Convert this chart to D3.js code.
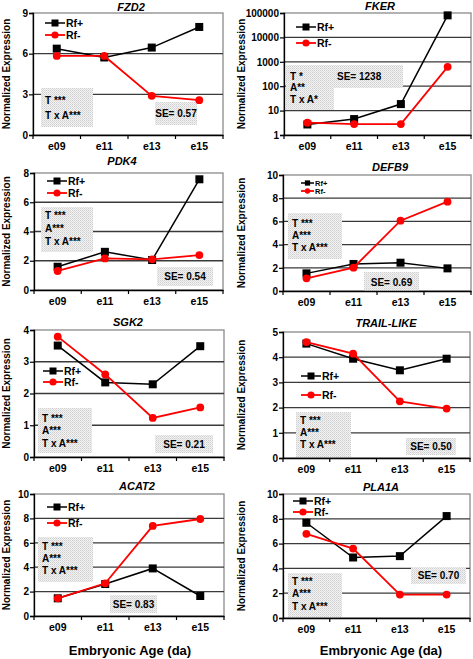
<!DOCTYPE html>
<html><head><meta charset="utf-8">
<script src="https://cdn.jsdelivr.net/npm/d3@7"></script>
<style>
body{margin:0;background:#fff}
svg{display:block}
text{font-family:"Liberation Sans",Arial,sans-serif;font-weight:bold;fill:#000}
</style>
</head><body>
<svg id="c" width="473" height="659"></svg>
<script>
// ---------- data ----------
const categories = ["e09", "e11", "e13", "e15"];
const seriesNames = ["Rf+", "Rf-"];

const fzd2Plus  = [6.37, 5.72, 6.45, 7.97];
const fzd2Minus = [5.83, 5.83, 2.89, 2.57];
const fzd2Ticks = [0, 3, 6, 9];
const fzd2Stats = ["T ***", "T x A***"];
const fzd2SE = "SE= 0.57";

const fkerPlus  = [2.7, 4.5, 18.5, 80000];
const fkerMinus = [3.2, 2.8, 2.8, 620];
const fkerTicks = [1, 10, 100, 1000, 10000, 100000];
const fkerStats = ["T *", "A**", "T x A*"];
const fkerSE = "SE= 1238";

const pdk4Plus  = [1.59, 2.61, 2.05, 7.57];
const pdk4Minus = [1.30, 2.16, 2.10, 2.39];
const pdk4Ticks = [0, 2, 4, 6, 8];
const pdk4Stats = ["T ***", "A***", "T x A***"];
const pdk4SE = "SE= 0.54";

const defb9Plus  = [1.52, 2.33, 2.44, 1.95];
const defb9Minus = [1.09, 2.01, 6.06, 7.70];
const defb9Ticks = [0, 2, 4, 6, 8, 10];
const defb9Stats = ["T ***", "A***", "T x A***"];
const defb9SE = "SE= 0.69";

const sgk2Plus  = [3.51, 2.35, 2.29, 3.49];
const sgk2Minus = [3.79, 2.60, 1.23, 1.56];
const sgk2Ticks = [0, 1, 2, 3, 4];
const sgk2Stats = ["T ***", "A***", "T x A***"];
const sgk2SE = "SE= 0.21";

const trailPlus  = [4.54, 3.94, 3.48, 3.94];
const trailMinus = [4.60, 4.14, 2.25, 1.96];
const trailTicks = [0, 1, 2, 3, 4, 5];
const trailStats = ["T ***", "A***", "T x A***"];
const trailSE = "SE= 0.50";

const acat2Plus  = [1.45, 2.62, 3.90, 1.64];
const acat2Minus = [1.45, 2.68, 7.38, 7.95];
const acat2Ticks = [0, 2, 4, 6, 8, 10];
const acat2Stats = ["T ***", "A***", "T x A***"];
const acat2SE = "SE= 0.83";

const pla1aPlus  = [7.68, 4.88, 4.99, 8.22];
const pla1aMinus = [6.79, 5.60, 1.89, 1.89];
const pla1aTicks = [0, 2, 4, 6, 8, 10];
const pla1aStats = ["T ***", "A***", "T x A***"];
const pla1aSE = "SE= 0.70";

const yTitle = "Normalized Expression";
const xTitle = "Embryonic Age (da)";

// ---------- layout ----------
const panels = [
  {gene:"FZD2", plus:fzd2Plus, minus:fzd2Minus, ticks:fzd2Ticks, stats:fzd2Stats, se:fzd2SE, log:false,
   l:33, r:223, t:13, b:135, title:[131, 11], ytx:6,
   leg:{x:45, y:23, dy:12}, sb:{x:41, y:88, w:52, h:39, ty:100, dy:15}, seb:{x:155, y:102, w:42, h:23}},
  {gene:"FKER", plus:fkerPlus, minus:fkerMinus, ticks:fkerTicks, stats:fkerStats, se:fkerSE, log:true,
   l:284, r:471, t:13, b:135, title:[380, 10], ytx:241,
   leg:{x:296, y:27, dy:16}, sb:{x:286, y:65, w:48, h:45, ty:76, dy:11.5}, seb:{x:333, y:65, w:70, h:23, tx:337, left:true}},
  {gene:"PDK4", plus:pdk4Plus, minus:pdk4Minus, ticks:pdk4Ticks, stats:pdk4Stats, se:pdk4SE, log:false,
   l:34, r:223, t:173, b:290, title:[122, 165], ytx:6,
   leg:{x:47, y:181, dy:12}, sb:{x:41, y:207, w:52, h:45, ty:215, dy:13}, seb:{x:157, y:267, w:56, h:19}},
  {gene:"DEFB9", plus:defb9Plus, minus:defb9Minus, ticks:defb9Ticks, stats:defb9Stats, se:defb9SE, log:false,
   l:283, r:471, t:175, b:291, title:[390, 171], ytx:241,
   leg:{x:301, y:183, dy:8, len:13, fs:7.5, ms:0.75}, sb:{x:288, y:213, w:54, h:46, ty:223, dy:12}, seb:{x:364, y:272, w:55, h:20}},
  {gene:"SGK2", plus:sgk2Plus, minus:sgk2Minus, ticks:sgk2Ticks, stats:sgk2Stats, se:sgk2SE, log:false,
   l:34, r:224, t:330, b:457, title:[128, 326], ytx:6,
   leg:{x:43, y:371, dy:11}, sb:{x:38, y:408, w:54, h:45, ty:418, dy:12.5}, seb:{x:155, y:435, w:58, h:18}},
  {gene:"TRAIL-LIKE", plus:trailPlus, minus:trailMinus, ticks:trailTicks, stats:trailStats, se:trailSE, log:false,
   l:283, r:470, t:332, b:458, title:[386, 327], ytx:241,
   leg:{x:301, y:376, dy:19}, sb:{x:296, y:412, w:55, h:45, ty:420, dy:12}, seb:{x:406, y:438, w:50, h:17}},
  {gene:"ACAT2", plus:acat2Plus, minus:acat2Minus, ticks:acat2Ticks, stats:acat2Stats, se:acat2SE, log:false,
   l:34, r:224, t:494, b:616, title:[137, 490], ytx:6, xt:[130, 655],
   leg:{x:47, y:507, dy:16}, sb:{x:38, y:537, w:55, h:45, ty:546, dy:12}, seb:{x:110, y:595, w:47, h:18}},
  {gene:"PLA1A", plus:pla1aPlus, minus:pla1aMinus, ticks:pla1aTicks, stats:pla1aStats, se:pla1aSE, log:false,
   l:283, r:470, t:494, b:618, title:[381, 491], ytx:241, xt:[381, 655],
   leg:{x:293, y:501, dy:11}, sb:{x:288, y:573, w:54, h:44, ty:581, dy:12.5}, seb:{x:411, y:567, w:55, h:17}}
];

const svg = d3.select("#c");

// dotted fill pattern for statistic boxes
const defs = svg.append("defs");
const pat = defs.append("pattern").attr("id","dots").attr("width",2).attr("height",2)
  .attr("patternUnits","userSpaceOnUse");
pat.append("rect").attr("width",2).attr("height",2).attr("fill","#f2f2f2");
pat.append("rect").attr("width",1).attr("height",1).attr("fill","#cfcfcf");
pat.append("rect").attr("x",1).attr("y",1).attr("width",1).attr("height",1).attr("fill","#dedede");

panels.forEach(p => {
  const g = svg.append("g");
  const x = d3.scaleBand().domain(categories).range([p.l, p.r]);
  const y = p.log
    ? d3.scaleLog().domain([1, 100000]).range([p.b, p.t])
    : d3.scaleLinear().domain([0, d3.max(p.ticks)]).range([p.b, p.t]);
  const cx = c => x(c) + x.bandwidth() / 2;

  // frame (top/right) in grey
  g.append("rect").attr("x", p.l).attr("y", p.t).attr("width", p.r - p.l).attr("height", p.b - p.t)
    .attr("fill", "#fff").attr("stroke", "#8a8a8a").attr("stroke-width", 1.3);

  // gridlines
  g.selectAll(".grid").data(p.ticks.slice(1, -1)).enter().append("line")
    .attr("x1", p.l).attr("x2", p.r).attr("y1", d => y(d)).attr("y2", d => y(d))
    .attr("stroke", "#3a3a3a").attr("stroke-width", 1.3);

  // stat boxes
  g.append("rect").attr("x", p.sb.x).attr("y", p.sb.y).attr("width", p.sb.w).attr("height", p.sb.h)
    .attr("fill", "url(#dots)");
  g.append("rect").attr("x", p.seb.x).attr("y", p.seb.y).attr("width", p.seb.w).attr("height", p.seb.h)
    .attr("fill", "url(#dots)");
  p.stats.forEach((s, i) => {
    g.append("text").attr("x", p.sb.x + 4).attr("y", p.sb.ty + i * p.sb.dy).attr("dy", "0.36em")
      .attr("font-size", 10).text(s);
  });
  const seT = g.append("text").attr("y", p.seb.y + p.seb.h / 2).attr("dy", "0.36em").attr("font-size", 10).text(p.se);
  if (p.seb.left) seT.attr("x", p.seb.tx);
  else seT.attr("x", p.seb.x + p.seb.w / 2).attr("text-anchor", "middle");

  // y axis
  const ya = d3.axisLeft(y).tickValues(p.ticks).tickSize(4).tickPadding(1)
    .tickFormat(d => String(d));
  const yg = g.append("g").attr("transform", `translate(${p.l},0)`).call(ya);
  yg.select(".domain").attr("stroke", "#000").attr("stroke-width", 1.3);
  yg.selectAll(".tick line").attr("stroke", "#000").attr("stroke-width", 1.2);
  yg.selectAll("text").attr("font-size", 10).attr("font-family", '"Liberation Sans",Arial,sans-serif')
    .attr("font-weight", "bold");

  // x axis
  const xa = d3.axisBottom(x).tickSize(0).tickPadding(8);
  const xg = g.append("g").attr("transform", `translate(0,${p.b})`).call(xa);
  xg.select(".domain").attr("stroke", "#000").attr("stroke-width", 1.3);
  xg.selectAll("text").attr("font-size", 10.5).attr("font-family", '"Liberation Sans",Arial,sans-serif')
    .attr("font-weight", "bold");
  const bounds = categories.map(c => x(c)).concat([p.r]);
  g.selectAll(".bt").data(bounds).enter().append("line")
    .attr("x1", d => d).attr("x2", d => d).attr("y1", p.b).attr("y2", p.b + 4)
    .attr("stroke", "#000").attr("stroke-width", 1.2);

  // series lines
  const line = d3.line().x((d, i) => cx(categories[i])).y(d => y(d));
  g.append("path").datum(p.plus).attr("d", line).attr("fill", "none").attr("stroke", "#000").attr("stroke-width", 1.5);
  g.selectAll(".sq").data(p.plus).enter().append("rect")
    .attr("x", (d, i) => cx(categories[i]) - 4).attr("y", d => y(d) - 4)
    .attr("width", 8).attr("height", 8).attr("fill", "#000");
  g.append("path").datum(p.minus).attr("d", line).attr("fill", "none").attr("stroke", "#ff0000").attr("stroke-width", 1.8);
  g.selectAll(".ci").data(p.minus).enter().append("circle")
    .attr("cx", (d, i) => cx(categories[i])).attr("cy", d => y(d)).attr("r", 3.9).attr("fill", "#ff0000");

  // legend
  const len = p.leg.len || 20, fs = p.leg.fs || 10.5, ms = p.leg.ms || 1;
  seriesNames.forEach((n, i) => {
    const ly = p.leg.y + i * p.leg.dy;
    const col = i === 0 ? "#000" : "#ff0000";
    g.append("line").attr("x1", p.leg.x).attr("x2", p.leg.x + len).attr("y1", ly).attr("y2", ly)
      .attr("stroke", col).attr("stroke-width", i === 0 ? 1.5 : 1.8);
    if (i === 0) g.append("rect").attr("x", p.leg.x + len / 2 - 3.5 * ms).attr("y", ly - 3.5 * ms)
      .attr("width", 7 * ms).attr("height", 7 * ms).attr("fill", "#000");
    else g.append("circle").attr("cx", p.leg.x + len / 2).attr("cy", ly).attr("r", 3.6 * ms).attr("fill", "#ff0000");
    g.append("text").attr("x", p.leg.x + len + 1).attr("y", ly).attr("dy", "0.36em").attr("font-size", fs).text(n);
  });

  // title
  g.append("text").attr("x", p.title[0]).attr("y", p.title[1]).attr("text-anchor", "middle")
    .attr("font-size", 11).attr("font-style", "italic").text(p.gene);

  // y title
  g.append("text").attr("transform", `translate(${p.ytx},${(p.t + p.b) / 2}) rotate(-90)`)
    .attr("text-anchor", "middle").attr("dy", "0.36em").attr("font-size", 10).text(yTitle);

  // x title
  if (p.xt) {
    g.append("text").attr("x", p.xt[0]).attr("y", p.xt[1]).attr("text-anchor", "middle")
      .attr("font-size", 13).text(xTitle);
  }
});
</script>
</body></html>
